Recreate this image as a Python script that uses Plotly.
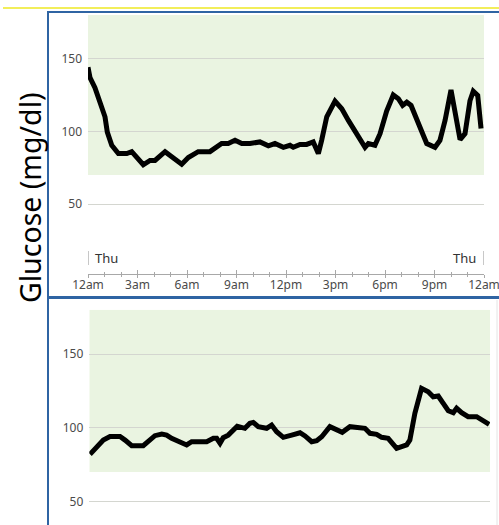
import plotly.graph_objects as go

# ---- data ----
day1_hours = [0.0, 0.12, 0.42, 0.73, 1.03, 1.17, 1.44, 1.84, 2.35, 2.65, 2.95, 3.35, 3.76, 4.06,
              4.67, 5.17, 5.68, 6.08, 6.68, 7.39, 8.10, 8.50, 8.91, 9.32, 9.82, 10.42, 10.93,
              11.33, 11.84, 12.24, 12.44, 12.85, 13.25, 13.65, 13.96, 14.16, 14.47, 14.97,
              15.38, 15.78, 16.28, 16.79, 16.99, 17.39, 17.70, 18.10, 18.50, 18.81, 19.07,
              19.32, 19.58, 19.92, 20.32, 20.53, 21.03, 21.33, 21.64, 22.00, 22.30, 22.55,
              22.85, 23.15, 23.35, 23.62, 23.82]
day1_glucose = [144, 137, 130, 121, 110, 99.5, 90.4, 84.7, 84.7, 86, 82, 77, 80, 80,
                86, 82, 77.4, 82, 86, 86, 91.6, 91.6, 93.8, 91.6, 91.6, 92.7, 90,
                91.6, 89, 90.4, 89, 91, 91, 92.7, 84.7, 93.8, 110, 120.8,
                115.5, 107.5, 98.4, 89, 91.6, 90.4, 98.4, 114, 125, 122.4, 117.8,
                120, 117.8, 107.5, 97.3, 91.6, 89, 93.8, 107.5, 128.5, 107.5, 94.3,
                98.4, 121, 127.6, 124.7, 102]

day2_hours = [0.04, 0.44, 0.84, 1.24, 1.84, 2.14, 2.54, 3.23, 3.53, 3.93, 4.34, 4.63, 4.93,
              5.43, 5.83, 6.13, 7.03, 7.43, 7.63, 7.83, 8.02, 8.32, 8.62, 8.86, 9.32, 9.62,
              9.82, 10.12, 10.62, 10.92, 11.22, 11.62, 12.12, 12.62, 12.92, 13.32, 13.62,
              13.92, 14.41, 14.81, 15.15, 15.61, 16.21, 16.51, 16.81, 17.21, 17.51, 17.90,
              18.41, 18.71, 19.01, 19.20, 19.50, 19.90, 20.30, 20.60, 20.90, 21.20, 21.50,
              21.80, 22.00, 22.30, 22.69, 23.20, 23.59, 23.95]
day2_glucose = [82, 87, 91.6, 94, 94, 91.6, 87.8, 87.8, 90.5, 94.6, 95.7, 95, 92.8,
                89.8, 88.3, 90.5, 90.5, 92.8, 92.8, 89.4, 93.2, 95, 98.4, 101, 99.6, 103,
                103.6, 100.7, 99.6, 101.8, 97.3, 93.5, 95, 96.6, 94.4, 90.5, 91.2,
                93.9, 100.7, 98.4, 96.9, 100.7, 100, 99.6, 96.2, 95.5, 93.5, 92.8,
                86, 87.1, 88.3, 91.6, 109.8, 126.7, 124.4, 121, 121.5, 116.5, 111.5,
                110.2, 113.2, 110.2, 107.5, 107.5, 104.7, 102.3]

x_tickvals = [0, 3, 6, 9, 12, 15, 18, 21, 24]
x_ticktext = ["12am", "3am", "6am", "9am", "12pm", "3pm", "6pm", "9pm", "12am"]
y_tickvals = [50, 100, 150]
target_low, target_high = 70, 180
day_label = "Thu"

# the page's body margin is removed in post_script, so the figure fills the window
OX, OY = 0, 0
W, H = 499 - OX, 525 - OY
def px(x):
    return (x - OX) / W
def py(y):
    return 1 - (y - OY) / H

FONT = "Noto Sans"
GREEN = "#eaf4e1"
GRID = "#d4d6d0"
BLUE = "#2f64a3"
AXC = "#a8a8a8"

fig = go.Figure()
fig.add_trace(go.Scatter(x=day1_hours, y=day1_glucose, mode="lines",
                         line=dict(color="black", width=5), xaxis="x", yaxis="y",
                         hoverinfo="skip", showlegend=False))
fig.add_trace(go.Scatter(x=day2_hours, y=day2_glucose, mode="lines",
                         line=dict(color="black", width=5), xaxis="x2", yaxis="y2",
                         hoverinfo="skip", showlegend=False))
# empty trace to activate the overlay axis used for crossing tick marks
fig.add_trace(go.Scatter(x=[0, 24], y=[None, None], xaxis="x3", yaxis="y",
                         showlegend=False, hoverinfo="skip"))

tickfont = dict(family=FONT, size=12, color="#4a4a4a")

fig.update_layout(
    width=W, height=H,
    margin=dict(l=0, r=0, t=0, b=0, pad=0, autoexpand=False),
    paper_bgcolor="white", plot_bgcolor="white",
    showlegend=False,
    xaxis=dict(domain=[px(88), px(484)], range=[0, 24], anchor="y", automargin=False,
               tickvals=x_tickvals, ticktext=x_ticktext, tickfont=tickfont,
               ticklabeloverflow="allow",
               showgrid=False, zeroline=False, showline=True, linecolor=AXC,
               linewidth=1, ticks="inside", ticklen=4, tickcolor=AXC,
               minor=dict(dtick=1, ticks="inside", ticklen=2, tickcolor=AXC)),
    xaxis3=dict(domain=[px(88), px(484)], range=[0, 24], anchor="y", overlaying="x",
                automargin=False, tickvals=x_tickvals, showticklabels=False, showgrid=False,
                zeroline=False, showline=False, ticks="outside", ticklen=3, tickcolor=AXC,
                minor=dict(dtick=1, ticks="outside", ticklen=2, tickcolor=AXC)),
    yaxis=dict(domain=[py(273.8), py(15)], range=[2, 180], anchor="x", automargin=False,
               tickvals=y_tickvals, tickfont=tickfont, showgrid=True, gridcolor=GRID,
               gridwidth=1, zeroline=False, showline=False, ticks="", ticklabelstandoff=5),
    xaxis2=dict(domain=[px(89.3), px(490)], range=[0, 24], anchor="y2", visible=False,
                automargin=False),
    yaxis2=dict(domain=[0, py(309.8)], range=[34, 180], anchor="x2", automargin=False,
                tickvals=y_tickvals, tickfont=tickfont, showgrid=True, gridcolor=GRID,
                gridwidth=1, zeroline=False, showline=False, ticks="", ticklabelstandoff=5),
)

shapes = [
    dict(type="rect", xref="x", yref="y", x0=0, x1=24, y0=target_low, y1=target_high,
         fillcolor=GREEN, line=dict(width=0), layer="below"),
    dict(type="rect", xref="x2", yref="y2", x0=0, x1=24, y0=target_low, y1=target_high,
         fillcolor=GREEN, line=dict(width=0), layer="below"),
    # day markers
    dict(type="line", xref="x", yref="paper", x0=0, x1=0, y0=py(265), y1=py(251),
         line=dict(color="#909090", width=1)),
    dict(type="line", xref="x", yref="paper", x0=24, x1=24, y0=py(265), y1=py(251),
         line=dict(color="#909090", width=1)),
    # frame
    dict(type="line", xref="paper", yref="paper", x0=px(3), x1=1, y0=py(8), y1=py(8),
         line=dict(color="#f2ee5a", width=2)),
    dict(type="line", xref="paper", yref="paper", x0=px(47), x1=1, y0=py(12), y1=py(12),
         line=dict(color=BLUE, width=2)),
    dict(type="line", xref="paper", yref="paper", x0=px(48), x1=px(48), y0=0, y1=py(11),
         line=dict(color=BLUE, width=2)),
    dict(type="line", xref="paper", yref="paper", x0=px(47), x1=1, y0=py(297.5), y1=py(297.5),
         line=dict(color=BLUE, width=3)),
    dict(type="line", xref="paper", yref="paper", x0=px(497), x1=px(497), y0=0, y1=py(300),
         line=dict(color="#e4e4e4", width=1)),
]
fig.update_layout(shapes=shapes)

annotations = [
    dict(text=day_label, xref="x", yref="paper", x=0, y=py(258), xanchor="left",
         yanchor="middle", xshift=5, showarrow=False,
         font=dict(family=FONT, size=13, color="#333333")),
    dict(text=day_label, xref="x", yref="paper", x=24, y=py(258), xanchor="right",
         yanchor="middle", xshift=-6, showarrow=False,
         font=dict(family=FONT, size=13, color="#333333")),
    dict(text="Glucose (mg/dl)", xref="paper", yref="paper", x=px(30), y=py(198),
         xanchor="center", yanchor="middle", textangle=-90, showarrow=False,
         font=dict(family=FONT, size=28.5, color="black")),
]
fig.update_layout(annotations=annotations)

fig.write_html("out.html", config={"displayModeBar": False, "staticPlot": True},
               post_script="document.body.style.margin='0';document.body.style.overflow='hidden';")
